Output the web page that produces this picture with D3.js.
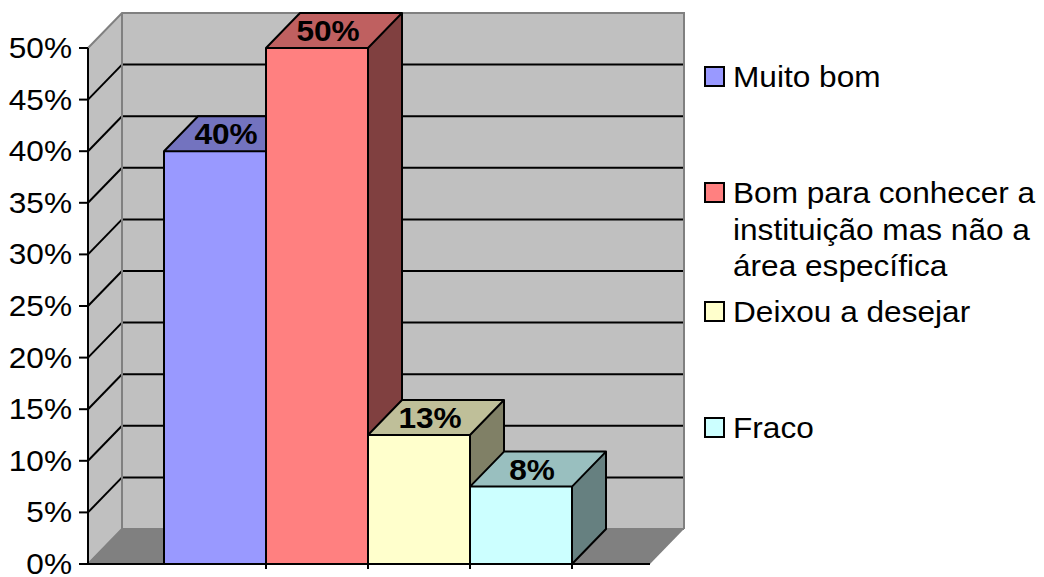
<!DOCTYPE html>
<html>
<head>
<meta charset="utf-8">
<script src="https://cdn.jsdelivr.net/npm/d3@7"></script>
<style>
  body { margin: 0; background: #fff; }
  svg { display: block; font-family: "Liberation Sans", Arial, sans-serif; }
</style>
</head>
<body>
<svg id="chart" width="1044" height="577"></svg>
<script>
// data
const categories = ['Muito bom', 'Bom para conhecer a instituição mas não a área específica', 'Deixou a desejar', 'Fraco'];
const values = [40, 50, 12.5, 7.5];
const colors = ['#9999FF', '#FF8080', '#FFFFCC', '#CCFFFF'];
const ticks = [0, 5, 10, 15, 20, 25, 30, 35, 40, 45, 50];
const legendLines = [['Muito bom'], ['Bom para conhecer a', 'instituição mas não a', 'área específica'], ['Deixou a desejar'], ['Fraco']];

const DX = 34, DY = -35, SX = 1.09, FS = 29;
var svg = d3.select('#chart');

var y = d3.scaleLinear().domain([0, 50]).range([564, 48]);
var x = d3.scaleBand().domain(categories).range([164, 572]).padding(0);
var left = 88, right = 650;

function shade(c, k) {
	var r = d3.rgb(c);
	return d3.rgb(r.r * k, r.g * k, r.b * k).toString();
}
function pts(a) { return a.map(function(p) { return p.join(','); }).join(' '); }

// walls
svg.append('polygon')
	.attr('points', pts([[left, y(50)], [left + DX, y(50) + DY], [left + DX, y(0) + DY], [left, y(0)]]))
	.attr('fill', '#C0C0C0');
svg.append('rect')
	.attr('x', left + DX).attr('y', y(50) + DY)
	.attr('width', right - left).attr('height', y(0) - y(50))
	.attr('fill', '#C0C0C0');

// gridlines
var inner = ticks.filter(function(t) { return t > 0 && t < 50; });
svg.append('g').selectAll('line.back')
	.data(inner).enter().append('line')
	.attr('x1', left + DX).attr('x2', right + DX)
	.attr('y1', function(d) { return y(d) + DY; })
	.attr('y2', function(d) { return y(d) + DY; })
	.attr('stroke', '#000').attr('stroke-width', 2);
svg.append('g').selectAll('line.side')
	.data(inner).enter().append('line')
	.attr('x1', left).attr('x2', left + DX)
	.attr('y1', function(d) { return y(d); })
	.attr('y2', function(d) { return y(d) + DY; })
	.attr('stroke', '#000').attr('stroke-width', 2);

// wall edges
svg.append('path')
	.attr('d', 'M' + left + ',' + y(50) + 'L' + (left + DX) + ',' + (y(50) + DY) + 'H' + (right + DX) + 'V' + (y(0) + DY) +
		'M' + (left + DX) + ',' + (y(50) + DY) + 'V' + (y(0) + DY) + 'H' + (right + DX) +
		'M' + left + ',' + y(0) + 'L' + (left + DX) + ',' + (y(0) + DY))
	.attr('fill', 'none').attr('stroke', '#808080').attr('stroke-width', 2);

// floor
svg.append('polygon')
	.attr('points', pts([[left, y(0)], [right, y(0)], [right + DX, y(0) + DY], [left + DX, y(0) + DY]]))
	.attr('fill', '#808080');

// bars
var bars = svg.append('g').selectAll('g')
	.data(values).enter().append('g');
bars.each(function(v, i) {
	var g = d3.select(this);
	var x0 = x(categories[i]), x1 = x0 + x.bandwidth(), yt = y(v), yb = y(0);
	g.append('polygon')
		.attr('points', pts([[x1, yt], [x1 + DX, yt + DY], [x1 + DX, yb + DY], [x1, yb]]))
		.attr('fill', shade(colors[i], 0.5));
	g.append('polygon')
		.attr('points', pts([[x0, yt], [x0 + DX, yt + DY], [x1 + DX, yt + DY], [x1, yt]]))
		.attr('fill', shade(colors[i], 0.75));
	g.append('rect')
		.attr('x', x0).attr('y', yt).attr('width', x.bandwidth()).attr('height', yb - yt)
		.attr('fill', colors[i]);
	g.append('path')
		.attr('d', 'M' + x0 + ',' + yb + 'V' + yt + 'L' + (x0 + DX) + ',' + (yt + DY) + 'H' + (x1 + DX) +
			'V' + (yb + DY) + 'L' + x1 + ',' + yb + 'Z' +
			'M' + x0 + ',' + yt + 'H' + x1 + 'V' + yb + 'M' + x1 + ',' + yt + 'L' + (x1 + DX) + ',' + (yt + DY))
		.attr('fill', 'none').attr('stroke', '#000').attr('stroke-width', 2).attr('stroke-linejoin', 'round');
});

// data labels
bars.append('g')
	.attr('transform', function(v, i) {
		return 'translate(' + (x(categories[i]) + x.bandwidth() / 2 + 11) + ',' + (y(v) - 17 + 10) + ') scale(' + SX + ',1)';
	})
	.append('text')
	.attr('text-anchor', 'middle')
	.style('font-size', FS + 'px').style('font-weight', 'bold')
	.text(function(v) { return Math.round(v) + '%'; });

// axes
svg.append('line')
	.attr('x1', left).attr('x2', left).attr('y1', y(0)).attr('y2', y(50))
	.attr('stroke', '#000').attr('stroke-width', 2);
svg.append('line')
	.attr('x1', left - 1).attr('x2', right).attr('y1', y(0)).attr('y2', y(0))
	.attr('stroke', '#000').attr('stroke-width', 2);
svg.append('g').selectAll('line')
	.data(categories).enter().append('line')
	.attr('x1', function(d) { return x(d) + x.bandwidth(); })
	.attr('x2', function(d) { return x(d) + x.bandwidth(); })
	.attr('y1', y(0)).attr('y2', y(0) + 5)
	.attr('stroke', '#000').attr('stroke-width', 2);

var yt = svg.append('g').selectAll('g')
	.data(ticks).enter().append('g');
yt.append('line')
	.attr('x1', left - 9).attr('x2', left)
	.attr('y1', function(d) { return y(d); })
	.attr('y2', function(d) { return y(d); })
	.attr('stroke', '#000').attr('stroke-width', 2);
yt.append('g')
	.attr('transform', function(d) { return 'translate(72,' + (y(d) + 10) + ') scale(' + SX + ',1)'; })
	.append('text')
	.attr('text-anchor', 'end')
	.style('font-size', FS + 'px')
	.text(function(d) { return d + '%'; });

// legend
const legendY = [87, 203, 322, 438];
var leg = svg.append('g').selectAll('g')
	.data(categories).enter().append('g');
leg.append('rect')
	.attr('x', 705).attr('y', function(d, i) { return legendY[i] - 20; })
	.attr('width', 19).attr('height', 19)
	.attr('fill', function(d, i) { return colors[i]; })
	.attr('stroke', '#000').attr('stroke-width', 2);
leg.each(function(d, i) {
	var g = d3.select(this);
	legendLines[i].forEach(function(line, j) {
		g.append('g')
			.attr('transform', 'translate(733,' + (legendY[i] + j * 36.5) + ') scale(' + SX + ',1)')
			.append('text')
			.style('font-size', FS + 'px')
			.text(line);
	});
});
</script>
</body>
</html>
